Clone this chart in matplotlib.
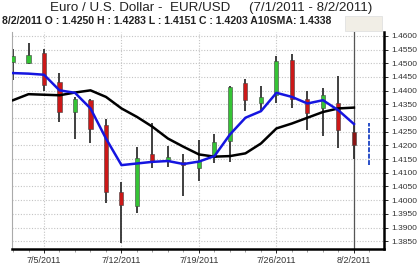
import numpy as np
import matplotlib.pyplot as plt
from matplotlib.patches import Rectangle
from matplotlib.ticker import FixedLocator, FormatStrFormatter

plt.rcParams["font.family"] = ["Liberation Sans", "DejaVu Sans"]

# daily EUR/USD candles, trading days only
dates = [
    "7/1/2011", "7/4/2011", "7/5/2011", "7/6/2011", "7/7/2011", "7/8/2011",
    "7/11/2011", "7/12/2011", "7/13/2011", "7/14/2011", "7/15/2011",
    "7/18/2011", "7/19/2011", "7/20/2011", "7/21/2011", "7/22/2011",
    "7/25/2011", "7/26/2011", "7/27/2011", "7/28/2011", "7/29/2011",
    "8/1/2011", "8/2/2011",
]
opens = [1.4504, 1.4502, 1.4538, 1.4432, 1.4322, 1.4365,
         1.4274, 1.4031, 1.3979, 1.4167, 1.4147,
         1.4140, 1.4116, 1.4158, 1.4216, 1.4428,
         1.4356, 1.4383, 1.4510, 1.4368, 1.4337,
         1.4353, 1.4250]
highs = [1.4553, 1.4575, 1.4553, 1.4465, 1.4375, 1.4368,
         1.4298, 1.4065, 1.4195, 1.4280, 1.4199,
         1.4167, 1.4219, 1.4240, 1.4417, 1.4441,
         1.4417, 1.4525, 1.4535, 1.4399, 1.4411,
         1.4452, 1.4283]
lows = [1.4438, 1.4496, 1.4398, 1.4286, 1.4222, 1.4207,
        1.3989, 1.3844, 1.3953, 1.4116, 1.4120,
        1.4017, 1.4070, 1.4135, 1.4141, 1.4325,
        1.4325, 1.4356, 1.4338, 1.4256, 1.4234,
        1.4192, 1.4151]
closes = [1.4528, 1.4531, 1.4422, 1.4322, 1.4368, 1.4259,
          1.4029, 1.3983, 1.4153, 1.4143, 1.4158,
          1.4128, 1.4143, 1.4213, 1.4413, 1.4365,
          1.4377, 1.4508, 1.4371, 1.4320, 1.4383,
          1.4256, 1.4203]

# moving averages as drawn (blue = short SMA, black = A10SMA)
sma_short = [1.4464, 1.4462, 1.4458, 1.4401, 1.4392, 1.4335,
             1.4225, 1.4128, 1.4134, 1.4140, 1.4143,
             1.4132, 1.4141, 1.4161, 1.4240, 1.4301,
             1.4325, 1.4392, 1.4377, 1.4353, 1.4365,
             1.4328, 1.4278]
sma10 = [1.4365, 1.4387, 1.4385, 1.4383, 1.4393, 1.4401,
         1.4377, 1.4335, 1.4304, 1.4268, 1.4225,
         1.4195, 1.4167, 1.4159, 1.4161, 1.4171,
         1.4207, 1.4262, 1.4280, 1.4301, 1.4322,
         1.4335, 1.4338]

# blue range bar drawn one day past the last candle
proj_low, proj_high = 1.4128, 1.4280

tick_dates = ["7/5/2011", "7/12/2011", "7/19/2011", "7/26/2011", "8/2/2011"]

x = np.arange(len(dates))
o, h, l, c = map(np.array, (opens, highs, lows, closes))

fig = plt.figure(figsize=(4.18, 2.65), dpi=100)
ax = fig.add_axes([12 / 418, 16 / 265, 372 / 418, 217 / 265])

# grid
ax.set_axisbelow(True)
ax.grid(True, axis="both", color="#c4c4c4", linestyle=(0, (1, 1.5)), linewidth=0.8)

# candles
up = c >= o
body_col = np.where(up, "#35c435", "#cc1818")
body_col[-1] = "#8a1515"
ax.vlines(x, l, h, color="#303030", linewidth=1.3, zorder=2)
ax.bar(x, np.abs(c - o), bottom=np.minimum(o, c), width=0.26,
       color=body_col, edgecolor="#404040", linewidth=0.4, zorder=3)

# moving averages
ax.plot(x, sma10, color="black", linewidth=1.8, zorder=4)
ax.plot(x, sma_short, color="#1515e0", linewidth=1.8, zorder=5)

# cursor line on last day and range bar after it
ax.axvline(x[-1], color="#555555", linewidth=0.9, zorder=1)
ax.vlines(len(dates), proj_low, proj_high, color="#2a4fc8", linewidth=1.4,
          linestyles=(0, (2.5, 0.8)), zorder=3)

# axes
ax.set_xlim(-0.065, 23.94)
ax.set_ylim(1.38218, 1.4614)
ax.yaxis.tick_right()
ax.set_yticks(np.arange(1.385, 1.4601, 0.005))
ax.yaxis.set_major_formatter(FormatStrFormatter("%.4f"))
ax.xaxis.set_major_locator(FixedLocator([dates.index(d) for d in tick_dates]))
ax.set_xticklabels(tick_dates)
ax.xaxis.set_minor_locator(FixedLocator(list(x) + [len(dates)]))
ax.tick_params(axis="both", labelsize=6, labelcolor="#333333", length=3, width=0.6, pad=2)
ax.tick_params(axis="x", labelsize=6.5)
ax.tick_params(axis="x", which="minor", length=2, width=0.5, colors="#777777")

ax.spines["top"].set_visible(False)
ax.spines["left"].set_color("#aaaaaa")
ax.spines["left"].set_linewidth(0.8)
ax.spines["right"].set_linewidth(1.8)
ax.spines["bottom"].set_linewidth(1.8)

# header
fig.text(211 / 418, 1 - 8.5 / 265, "Euro / U.S. Dollar -  EUR/USD     (7/1/2011 - 8/2/2011)",
         ha="center", va="center", fontsize=9.6, color="#222222")
fig.patches.append(Rectangle((345 / 418, 1 - 31 / 265), 37 / 418, 15 / 265,
                             transform=fig.transFigure, facecolor="#f1eee6",
                             edgecolor="#dddddd", linewidth=0.5))
fig.text(2 / 418, 1 - 21 / 265,
         "8/2/2011 O : 1.4250 H : 1.4283 L : 1.4151 C : 1.4203 A10SMA: 1.4338",
         ha="left", va="center", fontsize=7.6, fontweight="bold", color="#222222")

fig.savefig("out.png", dpi=100)
